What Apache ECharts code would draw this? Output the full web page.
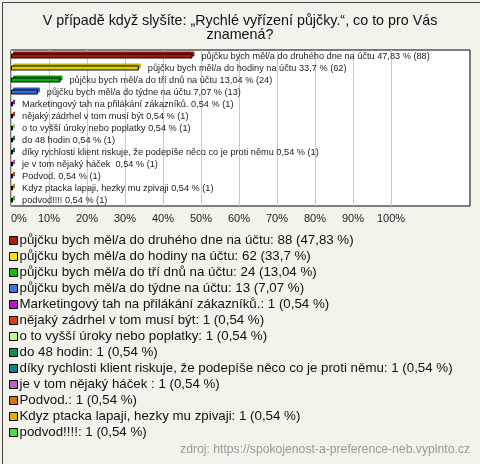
<!DOCTYPE html>
<html>
<head>
<meta charset="utf-8">
<script src="https://cdn.jsdelivr.net/npm/echarts@6/dist/echarts.min.js"></script>
<style>
  html, body { margin: 0; padding: 0; background: #f3f2eb; }
  #chart { width: 480px; height: 464px; }
</style>
</head>
<body>
<div id="chart"></div>
<script>
  // odpovědi (pořadí jako v grafu)
  var answers = [
    'půjčku bych měl/a do druhého dne na účtu',
    'půjčku bych měl/a do hodiny na účtu',
    'půjčku bych měl/a do tří dnů na účtu',
    'půjčku bych měl/a do týdne na účtu',
    'Marketingový tah na přilákání zákazníků.',
    'nějaký zádrhel v tom musí být',
    'o to vyšší úroky nebo poplatky',
    'do 48 hodin',
    'díky rychlosti klient riskuje, že podepíše něco co je proti němu',
    'je v tom nějaký háček ',
    'Podvod.',
    'Kdyz ptacka lapaji, hezky mu zpivaji',
    'podvod!!!!'
  ];
  var counts = [88, 62, 24, 13, 1, 1, 1, 1, 1, 1, 1, 1, 1];
  var percents = [47.83, 33.7, 13.04, 7.07, 0.54, 0.54, 0.54, 0.54, 0.54, 0.54, 0.54, 0.54, 0.54];
  var colors = ['#b41c0c', '#f5e400', '#12bb12', '#4070ee', '#c010d0', '#e03c10', '#ccf890',
                '#109050', '#148090', '#c060c0', '#e07000', '#e2b000', '#44e040'];
  var tickValues = [0, 10, 20, 30, 40, 50, 60, 70, 80, 90, 100];

  function fmtPct(v) { return String(v).replace('.', ','); }

  function darken(hex) {
    var n = parseInt(hex.slice(1), 16);
    var r = Math.round(((n >> 16) & 255) * 0.8), g = Math.round(((n >> 8) & 255) * 0.8), b = Math.round((n & 255) * 0.8);
    return 'rgb(' + r + ',' + g + ',' + b + ')';
  }

  var series = answers.map(function (name, i) {
    var d = answers.map(function (a, j) { return j === i ? percents[i] : '-'; });
    return {
      name: name,
      type: 'bar',
      xAxisIndex: 0,
      yAxisIndex: 0,
      barWidth: 5,
      barGap: '-100%',
      data: d,
      itemStyle: {
        color: colors[i],
        borderColor: '#000',
        borderWidth: 1,
        shadowColor: darken(colors[i]),
        shadowOffsetX: 2,
        shadowOffsetY: -2,
        shadowBlur: 0
      },
      label: {
        show: true,
        position: 'right',
        distance: 9,
        color: '#222',
        fontFamily: 'Liberation Sans',
        fontSize: 9.2,
        formatter: function () {
          return answers[i] + ' ' + fmtPct(percents[i]) + ' % (' + counts[i] + ')';
        }
      }
    };
  });

  var chart = echarts.init(document.getElementById('chart'));
  chart.setOption({
    backgroundColor: '#f3f2eb',
    animation: false,
    title: {
      text: 'V případě když slyšíte: „Rychlé vyřízení půjčky.“, co to pro Vás\nznamená?',
      left: 'center',
      top: 9,
      textStyle: { fontFamily: 'Liberation Sans', fontSize: 14.3, fontWeight: 'normal', color: '#111', lineHeight: 14 }
    },
    grid: [
      { left: 11, right: 10, top: 50, bottom: 258, show: true, backgroundColor: '#fff', borderColor: '#000', borderWidth: 1 },
      { left: 11, width: 380, top: 50, bottom: 258 }
    ],
    xAxis: [
      { gridIndex: 0, type: 'value', min: 0, max: 121, show: false },
      {
        gridIndex: 1, type: 'value', min: 0, max: tickValues[tickValues.length - 1], interval: 10,
        axisLine: { show: false }, axisTick: { show: false },
        splitLine: { show: true, lineStyle: { color: '#c8c8c8', width: 1 } },
        axisLabel: {
          margin: 7, color: '#222', fontFamily: 'Liberation Sans', fontSize: 11,
          formatter: '{value}%', alignMinLabel: 'left'
        }
      }
    ],
    yAxis: [
      { gridIndex: 0, type: 'category', data: answers, inverse: true, show: false },
      { gridIndex: 1, type: 'category', data: answers, inverse: true, show: false }
    ],
    legend: {
      orient: 'vertical',
      left: 9,
      top: 234,
      padding: 0,
      icon: 'rect',
      itemWidth: 8,
      itemHeight: 8,
      itemGap: 3,
      selectedMode: false,
      itemStyle: { borderColor: '#000', borderWidth: 1, shadowBlur: 0, shadowOffsetX: 0, shadowOffsetY: 0 },
      textStyle: { fontFamily: 'Liberation Sans', fontSize: 13.3, color: '#111', lineHeight: 13, padding: [0, 0, 0, -3] },
      formatter: function (name) {
        var i = answers.indexOf(name);
        return name + ': ' + counts[i] + ' (' + fmtPct(percents[i]) + ' %)';
      },
      data: answers
    },
    graphic: [
      {
        type: 'rect', left: 0, top: 0, silent: true,
        shape: { x: 0, y: 0, width: 479, height: 463 },
        style: { fill: null, stroke: '#444', lineWidth: 1 }
      },
      {
        type: 'text', right: 10, top: 444,
        style: { text: 'zdroj: https://spokojenost-a-preference-neb.vyplnto.cz', fill: '#999', font: '12.2px "Liberation Sans"' }
      }
    ],
    series: series
  });
</script>
</body>
</html>
